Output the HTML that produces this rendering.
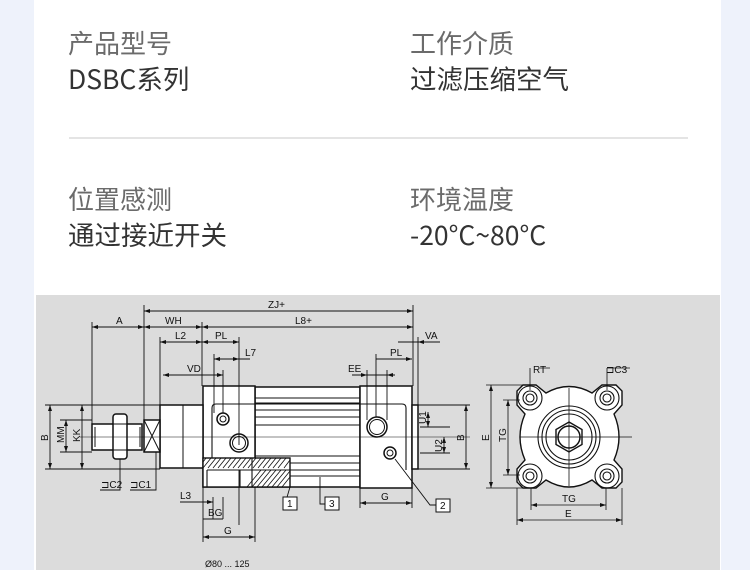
<!DOCTYPE html>
<html><head><meta charset="utf-8"><style>
html,body{margin:0;padding:0;}
body{width:750px;height:570px;background:#eef2fb;position:relative;overflow:hidden;font-family:"Noto Sans CJK SC","Liberation Sans",sans-serif;}
.panel{position:absolute;left:34px;top:0;width:687px;height:570px;background:#fff;}
.t{position:absolute;font-size:26px;line-height:28px;white-space:nowrap;}
.l{color:#6b6b6b;}
.v{color:#333;font-size:26.5px;}
.hr{position:absolute;left:69px;top:137px;width:619px;height:2px;background:#e4e4e4;}
svg{position:absolute;left:36px;top:295px;}
</style></head><body>
<div class="panel"></div>
<div class="t l" style="left:68px;top:29px">产品型号</div>
<div class="t v" style="left:68px;top:64px">DSBC系列</div>
<div class="t l" style="left:410px;top:29px">工作介质</div>
<div class="t v" style="left:410px;top:64px">过滤压缩空气</div>
<div class="hr"></div>
<div class="t l" style="left:68px;top:185px">位置感测</div>
<div class="t v" style="left:68px;top:220px">通过接近开关</div>
<div class="t l" style="left:410px;top:185px">环境温度</div>
<div class="t v" style="left:410px;top:220px">-20°C~80°C</div>
<svg width="684" height="275" viewBox="36 295 684 275" xmlns="http://www.w3.org/2000/svg" font-family="Liberation Sans, sans-serif" font-size="10" fill="none" stroke="#111" stroke-width="1">
<rect x="36" y="295" width="684" height="275" fill="#dcdcdc" stroke="none"/>
<g fill="#fff" stroke="#111" stroke-width="1.5">
<rect x="255" y="387" width="105" height="100"/>
<rect x="203" y="386" width="52" height="101"/>
<rect x="360" y="386" width="52" height="102"/>
<rect x="412" y="405" width="6" height="64"/>
<rect x="160" y="405" width="43" height="63"/>
<rect x="144" y="420" width="16" height="32"/>
<rect x="92" y="424" width="50" height="26"/>
<rect x="113" y="414" width="14" height="45" rx="3"/>
</g>
<path d="M255 398H360M255 403H360M255 410H360M255 417H360M255 425H360M255 456H360M255 463H360M255 470H360M255 476H360" stroke-width="0.9"/>
<path d="M212 470V408Q212 404 216 404H402Q406 404 406 408V470" stroke-width="1.1"/>
<path d="M183 405V468M144 420L160 452M160 420L144 452M113 424H127M113 450H127M95 427V447M140 427V447"/>
<rect x="203" y="458" width="87" height="29" fill="#fff" stroke="#111" stroke-width="1.4"/>
<path d="M206 458l-3 4M211 458l-8 10M216 458l-8 10M221 458l-8 10M226 458l-8 10M231 458l-8 10M236 458l-8 10M241 458l-8 10M246 458l-8 10M251 458l-8 10M256 458l-8 10M261 458l-8 10M266 458l-8 10M271 458l-8 10M276 458l-8 10M281 458l-8 10M286 458l-8 10M290 460l-6 8M252 487l14-17M257 487l14-17M262 487l14-17M267 487l14-17M272 487l14-17M277 487l13-16M282 487l8-10M247 487l14-17" stroke-width="0.8"/>
<path d="M207 470H290M207 470V487M240 470V487M252 458V487" stroke-width="1.1"/>
<circle cx="223" cy="419" r="6" fill="#fff" stroke-width="1.5"/><circle cx="223" cy="419" r="3" stroke-width="1"/>
<circle cx="239" cy="443" r="9" fill="#fff" stroke-width="1.5"/><circle cx="239" cy="443" r="6.5"/>
<circle cx="377" cy="427" r="10" fill="#fff" stroke-width="1.5"/><circle cx="377" cy="427" r="7.5"/>
<circle cx="390" cy="453" r="6" fill="#fff" stroke-width="1.5"/><circle cx="390" cy="453" r="3" stroke-width="1"/>
<path d="M80 437H470" stroke-width="0.6"/>
<g stroke-width="0.9">
<path d="M144 311H413M92 327H413M160 342H239M214 359H250M163 375H223M398 342H440M376 359H412M352 375H395"/>
<path d="M92 322V424M144 305V420M202 322V386M413 305V386M160 337V405M239 337V445M214 354V413M223 370V413M418 337V405M367 370V420M387 370V420M376 354V417"/>
<path d="M45 405H160M45 469H160M50 405V469M82 405V469M66 420V452M60 420H92M60 452H92"/>
<path d="M203 487V542M255 487V542M360 488V508M412 488V508M203 537H255M360 503H412M203 519H223M180 502H213M213 497V519M223 497V519M239 470V525"/>
<path d="M418 405H470M418 469H470M466 405V469M428 412V427M444 437V453M420 427H450M420 453H450"/>
<path d="M290 487L285 504H297M320 477V504H325M395 459L430 505H436"/>
<path d="M120 459V490H100M156 452V490H130"/>
</g>
<g fill="#111" stroke="none">
<path d="M144 311l6-2v4zM413 311l-6-2v4zM92 327l6-2v4zM144 327l-6-2v4zM144 327l6-2v4zM202 327l-6-2v4zM202 327l6-2v4zM413 327l-6-2v4zM160 342l6-2v4zM202 342l-6-2v4zM202 342l6-2v4zM239 342l-6-2v4zM214 359l6-2v4zM239 359l-6-2v4zM163 375l6-2v4zM223 375l-6-2v4zM418 342l6-2v4zM412 359l-6-2v4zM367 375l-6-2v4zM387 375l6-2v4zM50 405l-2 6h4zM50 469l-2-6h4zM82 405l-2 6h4zM82 469l-2-6h4zM66 420l-2 6h4zM66 452l-2-6h4zM203 537l6-2v4zM255 537l-6-2v4zM360 503l6-2v4zM412 503l-6-2v4zM466 405l-2 6h4zM466 469l-2-6h4zM428 412l-2 6h4zM428 427l-2-6h4zM444 437l-2 6h4zM444 453l-2-6h4zM213 502l-6-2v4z"/>
</g>
<g fill="#111" stroke="none" font-size="10">
<text x="268" y="308">ZJ+</text>
<text x="116" y="324">A</text>
<text x="165" y="324">WH</text>
<text x="295" y="324">L8+</text>
<text x="175" y="339">L2</text>
<text x="215" y="339">PL</text>
<text x="245" y="356">L7</text>
<text x="187" y="372">VD</text>
<text x="425" y="339">VA</text>
<text x="390" y="356">PL</text>
<text x="348" y="372">EE</text>
<text x="180" y="499">L3</text>
<text x="208" y="516">BG</text>
<text x="224" y="534">G</text>
<text x="381" y="500">G</text>
<text x="101" y="488">⊐C2</text>
<text x="130" y="488">⊐C1</text>
<text x="205" y="567" font-size="9">Ø80 ... 125</text>
<text transform="translate(48,441) rotate(-90)">B</text>
<text transform="translate(64,443) rotate(-90)">MM</text>
<text transform="translate(80,442) rotate(-90)">KK</text>
<text transform="translate(426,424) rotate(-90)">U1</text>
<text transform="translate(442,452) rotate(-90)">U2</text>
<text transform="translate(464,441) rotate(-90)">B</text>
<text transform="translate(489,441) rotate(-90)">E</text>
<text transform="translate(506,442) rotate(-90)">TG</text>
<text x="533" y="373">RT</text>
<text x="606" y="373">⊐C3</text>
<text x="562" y="502">TG</text>
<text x="565" y="517">E</text>
</g>
<g fill="#fff" stroke="#111" stroke-width="1">
<rect x="283" y="497" width="14" height="13"/><rect x="325" y="497" width="14" height="13"/><rect x="436" y="499" width="14" height="13"/>
</g>
<g fill="#111" stroke="none"><text x="287" y="507">1</text><text x="329" y="507">3</text><text x="440" y="509">2</text></g>
<path d="M523 385H536L546 393Q569 380 592 393L602 385H616L622 391V405L614 414Q624 437 614 460L622 469V482L616 488H602L592 480Q569 494 546 480L536 488H523L517 482V469L525 460Q515 437 525 414L517 405V391Z" fill="#fff" stroke="#111" stroke-width="1.4"/>
<g stroke-width="1.1">
<circle cx="530" cy="398" r="12"/><circle cx="530" cy="398" r="7"/><circle cx="530" cy="398" r="4"/>
<circle cx="607" cy="398" r="12"/><circle cx="607" cy="398" r="7"/><circle cx="607" cy="398" r="4"/>
<circle cx="530" cy="476" r="12"/><circle cx="530" cy="476" r="7"/><circle cx="530" cy="476" r="4"/>
<circle cx="607" cy="476" r="12"/><circle cx="607" cy="476" r="7"/><circle cx="607" cy="476" r="4"/>
<circle cx="569" cy="437" r="31"/><circle cx="569" cy="437" r="27"/><circle cx="569" cy="437" r="23"/>
<path d="M569 422L582 429.5V444.5L569 452L556 444.5V429.5Z" stroke-width="1.4"/>
<circle cx="569" cy="437" r="11" stroke-width="1.5"/>
</g>
<g stroke-width="0.8">
<path d="M520 437H632M569 388V486M530 368V390M540 368H550M607 368V390M607 368H630"/>
<path d="M486 385H523M503 400H520M503 475H520M486 488H523M491 385V488M508 400V475M517 488V525M622 488V525M531 488V510M606 488V510M517 520H622M531 505H606"/>
</g>
<g fill="#111" stroke="none">
<path d="M491 385l-2 6h4zM491 488l-2-6h4zM508 400l-2 6h4zM508 475l-2-6h4zM517 520l6-2v4zM622 520l-6-2v4zM531 505l6-2v4zM606 505l-6-2v4z"/>
</g>
</svg>
</body></html>
